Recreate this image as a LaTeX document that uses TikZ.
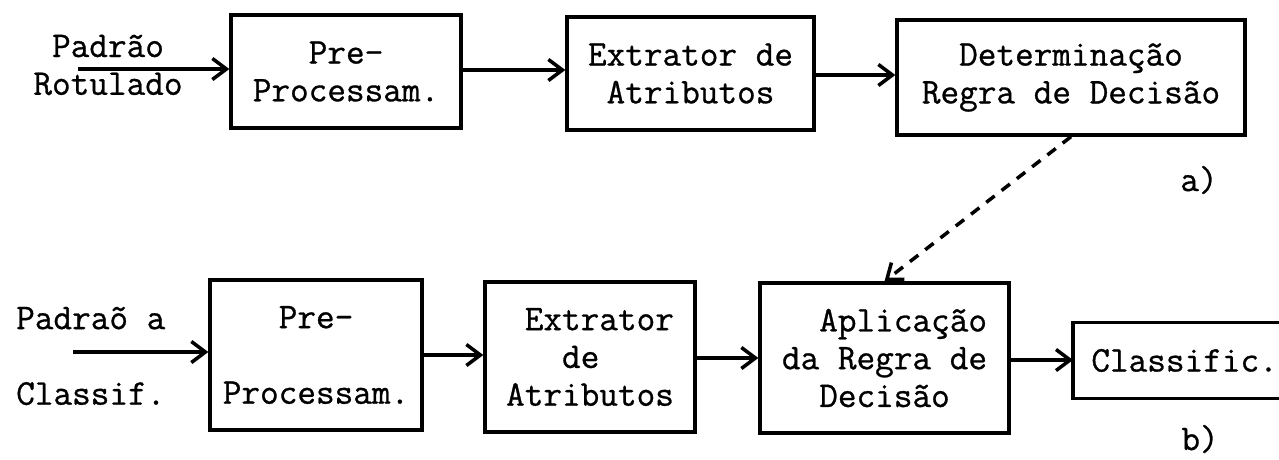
\documentclass[tikz,border=0pt]{standalone}
\usepackage{fontspec}
\newfontfamily\maquina{Latin Modern Mono}[FakeBold=0.8]
\usetikzlibrary{positioning,arrows.meta}

\begin{document}
\begin{tikzpicture}[
    font=\maquina\fontsize{20.6}{21.5}\selectfont,
    bloco/.style={draw, line width=1.9pt, inner sep=0pt},
    seta/.style={line width=2pt, -{Straight Barb[length=8pt,width=12pt]}}
]
\useasboundingbox (0,0) rectangle (25.58,-9.18);

  % a) padrao rotulado
  \node[align=center] (rot) at (2.16,-1.30) {Padrão\\Rotulado};
  \coordinate (in1) at (1.56,-1.38);
  \node[bloco, align=center, minimum width=4.6cm, minimum height=2.26cm] (pre1) at (6.92,-1.43) {Pre-\\Processam.};
  \node[bloco, align=center, minimum width=4.94cm, minimum height=2.26cm] (ext1) at (13.81,-1.47) {Extrator de\\Atributos};
  \node[bloco, align=center, minimum width=6.96cm, minimum height=2.3cm] (det1) at (21.42,-1.55) {Determinação\\Regra de Decisão};
  \node (ra) at (23.98,-3.6) {a)};
\draw[seta] (in1) -- (in1 -| pre1.west);
\draw[seta] (pre1.east |- 0,-1.40) -- (ext1.west |- 0,-1.40);
\draw[seta] (ext1.east |- 0,-1.50) -- (det1.west |- 0,-1.50);

  % b) padrao a classificar
  \node[align=left, anchor=west] (cla) at (0.2,-7.12) {Padraõ a\\~\\Classif.};
  \coordinate (in2) at (1.46,-7.04);
  \node[bloco, align=center, minimum width=4.24cm, minimum height=3cm] (pre2) at (6.32,-7.10) {Pre-\\~\\Processam.};
  \node[bloco, align=left, minimum width=4.2cm, minimum height=3cm] (ext2) at (11.80,-7.14) {~Extrator\\~~~de\\Atributos};
  \node[bloco, align=left, minimum width=4.98cm, minimum height=3cm] (apl) at (17.69,-7.16) {~~Aplicação\\da Regra de\\~~Decisão};
  \node[anchor=west, align=left, text width=5cm, inner xsep=0.36cm, inner ysep=0pt, minimum height=1.5cm] (res) at (21.46,-7.21) {Classific.};
  % caixa aberta a direita
  \draw[line width=1.9pt] (res.north east) -- (res.north west) -- (res.south west) -- (res.south east);
  \node (rb) at (24.0,-8.78) {b)};
\draw[seta] (in2) -- (in2 -| pre2.west);
\draw[seta] (pre2.east |- 0,-7.10) -- (ext2.west |- 0,-7.10);
\draw[seta] (ext2.east |- 0,-7.16) -- (apl.west |- 0,-7.16);
\draw[seta] (apl.east |- 0,-7.20) -- (res.west |- 0,-7.20);

\draw[seta, dash pattern=on 6pt off 5pt] (det1.south) -- (apl.north);
\end{tikzpicture}
\end{document}
